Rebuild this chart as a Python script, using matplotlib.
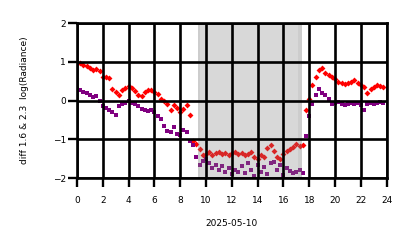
import numpy as np
import matplotlib.pyplot as plt

# time of day (hours), sampled every 15 min
hours = np.arange(0, 24, 0.25)

diff_16 = [
    0.97, 0.98, 0.93, 0.90, 0.85, 0.80, 0.82, 0.76, 0.62, 0.60, 0.57, 0.30,
    0.22, 0.15, 0.28, 0.32, 0.38, 0.33, 0.25, 0.15, 0.12, 0.22, 0.28, 0.27,
    0.22, 0.18, 0.05, 0.00, -0.08, -0.25, -0.12, -0.20, -0.30, -0.22, -0.12, -0.38,
    -1.05, -1.12, -1.25, -1.40, -1.38, -1.33, -1.40, -1.35, -1.32, -1.38, -1.35, -1.40,
    -1.36, -1.33, -1.38, -1.35, -1.40, -1.37, -1.32, -1.45, -1.50, -1.40, -1.45, -1.22,
    -1.15, -1.30, -1.45, -1.50, -1.38, -1.30, -1.25, -1.20, -1.12, -1.18, -1.15, -0.25,
    0.05, 0.40, 0.60, 0.80, 0.85, 0.70, 0.65, 0.60, 0.55, 0.48, 0.46, 0.44,
    0.45, 0.47, 0.52, 0.45, 0.40, 0.35, 0.20, 0.30, 0.35, 0.40, 0.38, 0.36,
]

diff_23 = [
    0.30, 0.28, 0.22, 0.20, 0.15, 0.08, 0.12, -0.02, -0.15, -0.18, -0.25, -0.30,
    -0.38, -0.15, -0.08, -0.05, -0.02, -0.05, -0.10, -0.15, -0.22, -0.25, -0.28, -0.25,
    -0.30, -0.40, -0.48, -0.65, -0.78, -0.82, -0.68, -0.85, -0.90, -0.75, -0.82, -1.05,
    -1.15, -1.45, -1.65, -1.55, -1.50, -1.60, -1.75, -1.65, -1.80, -1.70, -1.85, -1.75,
    -1.90, -1.80, -1.85, -1.70, -1.88, -1.62, -1.78, -1.95, -1.65, -1.85, -1.72, -1.90,
    -1.60, -1.58, -1.80, -1.65, -1.92, -1.75, -1.82, -1.88, -1.85, -1.80, -1.88, -0.92,
    -0.40, -0.10, 0.15, 0.30, 0.20, 0.15, 0.05, -0.08, -0.05, -0.03, -0.10, -0.12,
    -0.08, -0.05, -0.10, -0.05, -0.12, -0.25, -0.08, -0.05, -0.10, -0.05, -0.03, -0.05,
]

night_start = 9.35
night_end = 17.45
xticks = list(range(0, 25, 2))
yticks = [-2, -1, 0, 1, 2]

fig = plt.figure(figsize=(4.14, 2.48), dpi=100)
ax = fig.add_axes([0.186, 0.282, 0.748, 0.625])

ax.plot(hours, diff_16, "D", color="red", markersize=3.0, markeredgewidth=0, zorder=2)
ax.plot(hours, diff_23, "s", color="purple", markersize=2.4, markeredgewidth=0, zorder=2.1)

# shaded period drawn over the points
ax.axvspan(night_start, night_end, color="gray", alpha=0.3, linewidth=0, zorder=2.2)
ax.axvspan(night_start, night_start + 0.2, color="gray", alpha=0.12, linewidth=0, zorder=2.2)
ax.axvspan(night_end - 0.3, night_end, color="gray", alpha=0.12, linewidth=0, zorder=2.2)

ax.set_xlim(0, 24)
ax.set_ylim(-2, 2)
ax.set_xticks(xticks)
ax.set_yticks(yticks)
ax.set_axisbelow(False)
ax.grid(True, color="black", linewidth=1.9)
for spine in ax.spines.values():
    spine.set_linewidth(1.9)
    spine.set_zorder(3)
ax.tick_params(axis="both", labelsize=6.5, length=6.5, width=1.7, colors="black")
ax.tick_params(axis="x", pad=6.5)
ax.tick_params(axis="y", pad=1.5)
ax.set_xlabel("2025-05-10", fontsize=6.5, labelpad=10)
ax.set_ylabel("diff 1.6 & 2.3  log(Radiance)", fontsize=6.5, labelpad=17)

fig.savefig("out.png", dpi=100)
